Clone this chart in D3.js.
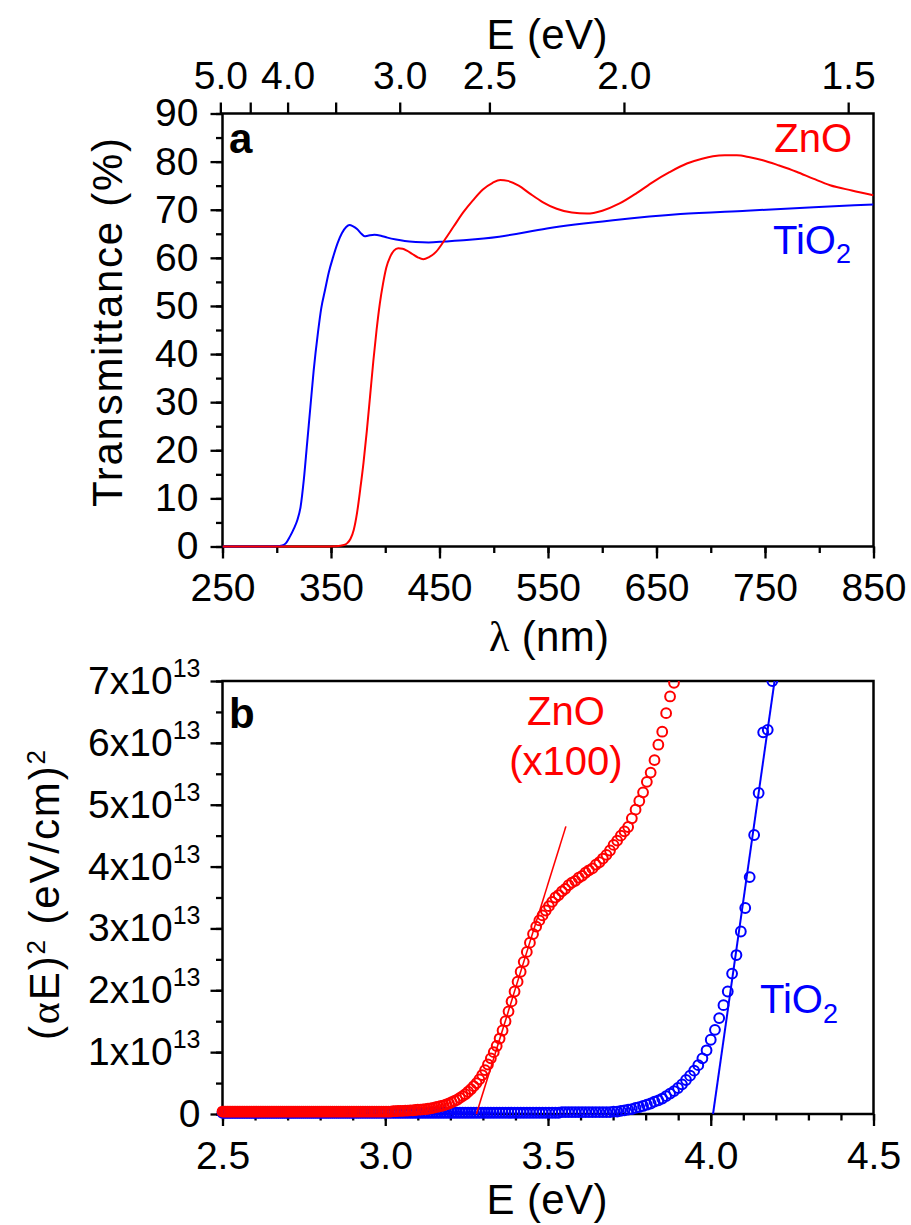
<!DOCTYPE html>
<html>
<head>
<meta charset="utf-8">
<script src="https://cdn.jsdelivr.net/npm/d3@7"></script>
<style>
  body { margin: 0; background: #fff; }
  svg { display: block; font-family: "Liberation Sans", Arial, sans-serif; }
</style>
</head>
<body>
<div id="chart"></div>
<script>
// ---------- panel a : transmittance ----------
const tio2TransNm = [250, 280, 300, 305, 308, 312, 316, 319, 322, 325,
  328, 331, 334, 338, 341, 344.5, 348, 352, 356, 360,
  364, 367, 370, 374, 378, 381, 384, 390, 396, 402,
  410, 418, 428, 440, 455, 475, 505, 549, 610, 672,
  733, 795, 850];
const tio2TransPct = [0, 0, 0.05, 0.2, 0.6, 2.0, 3.8, 5.5, 8.3, 14,
  21.5, 29, 36.5, 44.5, 49.5, 53.3, 57, 60.2, 63, 65.1,
  66.4, 66.8, 66.6, 66.0, 65.0, 64.5, 64.6, 64.8, 64.6, 64.2,
  63.8, 63.5, 63.3, 63.2, 63.4, 63.7, 64.4, 66.1, 67.8, 69.1,
  69.8, 70.5, 71.1];

const znoTransNm = [250, 340, 355, 362, 365, 368, 371, 374, 377, 380,
  383, 386, 389, 392, 395, 398, 401, 404.5, 408, 412,
  416, 420, 425, 430, 435, 440, 447, 455, 463, 472,
  481, 490, 499, 506, 513, 523, 533, 545, 558, 572,
  586, 600, 616, 632, 647, 662, 678, 692, 702, 713,
  724, 736, 748, 763, 779, 795, 810, 830, 850];
const znoTransPct = [0, 0, 0.05, 0.3, 0.7, 1.6, 3.5, 7, 12, 17.5,
  24, 31.2, 38.5, 45, 50.5, 54.7, 58, 60.2, 61.5, 62,
  61.9, 61.5, 60.8, 60.1, 59.7, 60.1, 61.3, 63.8, 66.5, 69.5,
  72, 74.2, 75.6, 76.2, 76.0, 75, 73.4, 71.6, 70.2, 69.4,
  69.2, 69.8, 71.3, 73.5, 75.8, 77.8, 79.6, 80.6, 81.1, 81.3,
  81.3, 80.9, 80.3, 79.2, 77.9, 76.4, 75.1, 74.0, 73.0];

const aTickNm = [250, 350, 450, 550, 650, 750, 850];
const topTickEv = [5.0, 4.5, 4.0, 3.5, 3.0, 2.5, 2.0, 1.5];
const topTickLabels = ["5.0", "", "4.0", "", "3.0", "2.5", "2.0", "1.5"];

// ---------- panel b : (alpha E)^2 in units of 1e13 (eV/cm)^2 ----------
// measured on a 1 nm wavelength grid, E = 1240 / lambda
const absWavelengthNm = [
  496, 495, 494, 493, 492, 491, 490, 489, 488, 487, 486, 485, 484, 483, 482, 481, 480, 479, 478, 477,
  476, 475, 474, 473, 472, 471, 470, 469, 468, 467, 466, 465, 464, 463, 462, 461, 460, 459, 458, 457,
  456, 455, 454, 453, 452, 451, 450, 449, 448, 447, 446, 445, 444, 443, 442, 441, 440, 439, 438, 437,
  436, 435, 434, 433, 432, 431, 430, 429, 428, 427, 426, 425, 424, 423, 422, 421, 420, 419, 418, 417,
  416, 415, 414, 413, 412, 411, 410, 409, 408, 407, 406, 405, 404, 403, 402, 401, 400, 399, 398, 397,
  396, 395, 394, 393, 392, 391, 390, 389, 388, 387, 386, 385, 384, 383, 382, 381, 380, 379, 378, 377,
  376, 375, 374, 373, 372, 371, 370, 369, 368, 367, 366, 365, 364, 363, 362, 361, 360, 359, 358, 357,
  356, 355, 354, 353, 352, 351, 350, 349, 348, 347, 346, 345, 344, 343, 342, 341, 340, 339, 338, 337,
  336, 335, 334, 333, 332, 331, 330, 329, 328, 327, 326, 325, 324, 323, 322, 321, 320, 319, 318, 317,
  316, 315, 314, 313, 312, 311, 310, 309, 308, 307, 306, 305, 304, 303, 302, 301, 300, 299, 298, 297,
  296];

// ZnO (x100)
const znoAbs = [
  0.04, 0.04, 0.04, 0.04, 0.04, 0.04, 0.04, 0.04, 0.04, 0.04, 0.04, 0.04, 0.04, 0.04, 0.04, 0.04, 0.04, 0.04, 0.04, 0.04,
  0.04, 0.04, 0.04, 0.04, 0.04, 0.04, 0.04, 0.04, 0.04, 0.04, 0.04, 0.04, 0.04, 0.04, 0.04, 0.04, 0.04, 0.04, 0.04, 0.04,
  0.04, 0.04, 0.04, 0.04, 0.04, 0.04, 0.04, 0.04, 0.04, 0.04, 0.04, 0.04, 0.04, 0.04, 0.04, 0.04, 0.04, 0.04, 0.04, 0.04,
  0.04, 0.04, 0.04, 0.04, 0.04, 0.04, 0.04, 0.04, 0.04, 0.04, 0.04, 0.04, 0.04, 0.04, 0.04, 0.04, 0.04, 0.04, 0.04, 0.04,
  0.04, 0.04, 0.04, 0.04, 0.04, 0.04, 0.045, 0.045, 0.05, 0.05, 0.05, 0.055, 0.055, 0.06, 0.06, 0.065, 0.07, 0.07, 0.075, 0.08,
  0.085, 0.09, 0.1, 0.11, 0.12, 0.13, 0.14, 0.155, 0.17, 0.19, 0.21, 0.23, 0.26, 0.29, 0.32, 0.36, 0.4, 0.45, 0.5, 0.56,
  0.63, 0.71, 0.8, 0.9, 1.0, 1.1, 1.22, 1.35, 1.5, 1.66, 1.82, 1.98, 2.14, 2.3, 2.46, 2.62, 2.77, 2.91, 3.03, 3.13,
  3.21, 3.29, 3.36, 3.43, 3.5, 3.54, 3.6, 3.64, 3.7, 3.74, 3.77, 3.82, 3.85, 3.9, 3.94, 3.97, 4.03, 4.07, 4.13, 4.19,
  4.26, 4.35, 4.42, 4.5, 4.57, 4.64, 4.78, 4.92, 5.06, 5.2, 5.37, 5.52, 5.72, 5.97, 6.18, 6.48, 6.75, 6.97];

// TiO2
const tio2Abs = [
  0.02, 0.02, 0.02, 0.02, 0.02, 0.02, 0.02, 0.02, 0.02, 0.02, 0.02, 0.02, 0.02, 0.02, 0.02, 0.02, 0.02, 0.02, 0.02, 0.02,
  0.02, 0.02, 0.02, 0.02, 0.02, 0.02, 0.02, 0.02, 0.02, 0.02, 0.02, 0.02, 0.02, 0.02, 0.02, 0.02, 0.02, 0.02, 0.02, 0.02,
  0.02, 0.02, 0.02, 0.02, 0.02, 0.02, 0.02, 0.02, 0.02, 0.02, 0.02, 0.02, 0.02, 0.02, 0.02, 0.02, 0.02, 0.02, 0.02, 0.02,
  0.02, 0.02, 0.02, 0.02, 0.02, 0.02, 0.02, 0.02, 0.02, 0.02, 0.02, 0.02, 0.02, 0.02, 0.02, 0.02, 0.02, 0.02, 0.02, 0.02,
  0.02, 0.02, 0.02, 0.02, 0.02, 0.02, 0.02, 0.02, 0.02, 0.02, 0.02, 0.02, 0.02, 0.02, 0.02, 0.02, 0.02, 0.02, 0.02, 0.02,
  0.02, 0.02, 0.02, 0.02, 0.02, 0.02, 0.02, 0.02, 0.02, 0.02, 0.02, 0.02, 0.02, 0.02, 0.02, 0.02, 0.02, 0.02, 0.02, 0.02,
  0.02, 0.02, 0.02, 0.02, 0.02, 0.02, 0.02, 0.02, 0.02, 0.02, 0.02, 0.02, 0.02, 0.02, 0.02, 0.02, 0.02, 0.02, 0.02, 0.02,
  0.02, 0.02, 0.02, 0.02, 0.02, 0.02, 0.03, 0.03, 0.03, 0.03, 0.03, 0.03, 0.03, 0.03, 0.03, 0.03, 0.03, 0.03, 0.03, 0.03,
  0.03, 0.04, 0.04, 0.05, 0.06, 0.07, 0.08, 0.1, 0.11, 0.13, 0.15, 0.17, 0.2, 0.22, 0.25, 0.29, 0.33, 0.37, 0.42, 0.48,
  0.55, 0.62, 0.7, 0.79, 0.9, 1.03, 1.2, 1.36, 1.55, 1.76, 1.98, 2.27, 2.57, 2.95, 3.33, 3.83, 4.51, 5.19, 6.17, 6.21,
  7.0];

// linear band-gap fits
const znoFitEv = [3.28, 3.555];
const znoFitAbs = [0, 4.65];
const tio2FitEv = [4.007, 4.196];
const tio2FitAbs = [0, 7.0];

const bTickEv = [2.5, 3.0, 3.5, 4.0, 4.5];
const bTickAbs = [0, 1, 2, 3, 4, 5, 6, 7];

// ---------- layout ----------
const W = 911, H = 1225;
const left = 222.5, right = 873.5;
const aTop = 113.5, aBottom = 546.5;
const bTop = 681, bBottom = 1114;
const red = "#ff0000", blue = "#0000ff";
const tickFont = 39, titleFont = 42;

const svg = d3.select("#chart").append("svg")
  .attr("width", W).attr("height", H);

const xA = d3.scaleLinear().domain([250, 850]).range([left, right]);
const yA = d3.scaleLinear().domain([0, 90]).range([aBottom, aTop]);
const xB = d3.scaleLinear().domain([2.5, 4.5]).range([left, right]);
const yB = d3.scaleLinear().domain([0, 7]).range([bBottom, bTop]);

// axis helper: strip domain, style ticks
function styleAxis(g) {
  g.attr("font-family", null).attr("font-size", null);
  g.select(".domain").remove();
  g.selectAll(".tick line").attr("stroke", "#000").attr("stroke-width", 2.3);
  g.selectAll(".tick text").attr("fill", "#000").attr("font-size", tickFont);
}

function minor(axis) { return axis.tickSize(6.5).tickFormat(""); }

function title(x, y, rot, len) {
  return svg.append("text")
    .attr("transform", `translate(${x},${y})` + (rot ? " rotate(-90)" : ""))
    .attr("text-anchor", "middle").attr("font-size", titleFont)
    .attr("textLength", len).attr("lengthAdjust", "spacing");
}

// clip paths
const defs = svg.append("defs");
defs.append("clipPath").attr("id", "clipA").append("rect")
  .attr("x", left).attr("y", aTop).attr("width", right - left).attr("height", aBottom - aTop + 2);
defs.append("clipPath").attr("id", "clipB").append("rect")
  .attr("x", left - 8).attr("y", bTop).attr("width", right - left + 8).attr("height", bBottom - bTop + 10);

// ================= panel a =================
svg.append("g").attr("transform", `translate(0,${aBottom})`)
  .call(minor(d3.axisBottom(xA).tickValues(xA.ticks(12)))).call(styleAxis);
svg.append("g").attr("transform", `translate(0,${aBottom})`)
  .call(d3.axisBottom(xA).tickValues(aTickNm).tickSize(12).tickPadding(15).tickFormat(d3.format("d")))
  .call(styleAxis);

svg.append("g").attr("transform", `translate(${left},0)`)
  .call(minor(d3.axisLeft(yA).tickValues(yA.ticks(18)))).call(styleAxis);
svg.append("g").attr("transform", `translate(${left},0)`)
  .call(d3.axisLeft(yA).tickValues(yA.ticks(9)).tickSize(12).tickPadding(12).tickFormat(d3.format("d")))
  .call(styleAxis);

svg.append("g").attr("transform", `translate(0,${aTop})`)
  .call(d3.axisTop(xA).tickValues(topTickEv.map(e => 1240 / e))
    .tickSize(11).tickPadding(14).tickFormat((d, i) => topTickLabels[i]))
  .call(styleAxis);

svg.append("rect")
  .attr("x", left).attr("y", aTop).attr("width", right - left).attr("height", aBottom - aTop)
  .attr("fill", "none").attr("stroke", "#000").attr("stroke-width", 2.5);

const lineA = d3.line().x(d => xA(d[0])).y(d => yA(d[1])).curve(d3.curveMonotoneX);
const plotA = svg.append("g").attr("clip-path", "url(#clipA)");
plotA.append("path")
  .datum(d3.zip(tio2TransNm, tio2TransPct))
  .attr("d", lineA).attr("fill", "none").attr("stroke", blue).attr("stroke-width", 2);
plotA.append("path")
  .datum(d3.zip(znoTransNm, znoTransPct))
  .attr("d", lineA).attr("fill", "none").attr("stroke", red).attr("stroke-width", 2);

// titles panel a
title(121.5, 322.5, true, 369).text("Transmittance (%)");
const lamTitle = title(549, 651, false, 120);
lamTitle.append("tspan").attr("font-family", "Liberation Serif, serif").text("λ");
lamTitle.append("tspan").text(" (nm)");
title(547, 49, false, 121).text("E (eV)");

svg.append("text").attr("x", 229).attr("y", 153)
  .attr("font-size", 42).attr("font-weight", "bold").text("a");

svg.append("text").attr("x", 852).attr("y", 152).attr("text-anchor", "end")
  .attr("font-size", 40).attr("fill", red).text("ZnO");
const tiA = svg.append("text").attr("x", 773).attr("y", 254)
  .attr("font-size", 40).attr("fill", blue);
tiA.append("tspan").text("TiO");
tiA.append("tspan").attr("font-size", 27).attr("dy", 9).text("2");

// ================= panel b =================
svg.append("g").attr("transform", `translate(0,${bBottom})`)
  .call(minor(d3.axisBottom(xB).tickValues(xB.ticks(20)))).call(styleAxis);
svg.append("g").attr("transform", `translate(0,${bBottom})`)
  .call(d3.axisBottom(xB).tickValues(bTickEv).tickSize(12).tickPadding(15).tickFormat(d3.format(".1f")))
  .call(styleAxis);

svg.append("g").attr("transform", `translate(${left},0)`)
  .call(minor(d3.axisLeft(yB).tickValues(yB.ticks(14)))).call(styleAxis);
const yAxisB = svg.append("g").attr("transform", `translate(${left},0)`)
  .call(d3.axisLeft(yB).tickValues(bTickAbs).tickSize(12).tickPadding(10)
    .tickFormat(d => d === 0 ? "0" : d + "x10"))
  .call(styleAxis);
yAxisB.selectAll(".tick text").filter(d => d !== 0)
  .append("tspan").attr("dy", -17).attr("font-size", 25).text("13");

svg.append("rect")
  .attr("x", left).attr("y", bTop).attr("width", right - left).attr("height", bBottom - bTop)
  .attr("fill", "none").attr("stroke", "#000").attr("stroke-width", 2.5);

const energyEv = absWavelengthNm.map(l => 1240 / l);
const plotB = svg.append("g").attr("clip-path", "url(#clipB)");

function drawCircles(values, color) {
  plotB.append("g").selectAll("circle")
    .data(values.map((v, i) => [energyEv[i], v]))
    .join("circle")
      .attr("cx", d => xB(d[0]))
      .attr("cy", d => yB(d[1]))
      .attr("r", 4.9)
      .attr("fill", "none")
      .attr("stroke", color)
      .attr("stroke-width", 2);
}
const lineB = d3.line().x(d => xB(d[0])).y(d => yB(d[1]));

drawCircles(tio2Abs, blue);
plotB.append("path").datum(d3.zip(tio2FitEv, tio2FitAbs))
  .attr("d", lineB).attr("stroke", blue).attr("stroke-width", 2).attr("fill", "none");
drawCircles(znoAbs, red);
plotB.append("path").datum(d3.zip(znoFitEv, znoFitAbs))
  .attr("d", lineB).attr("stroke", red).attr("stroke-width", 1.6).attr("fill", "none");

// titles panel b
const yTitleB = title(59, 895, true, 290);
yTitleB.append("tspan").text("(");
yTitleB.append("tspan").attr("font-family", "Liberation Serif, serif").text("α");
yTitleB.append("tspan").text("E)");
yTitleB.append("tspan").attr("font-size", 26).attr("dy", -14).text("2");
yTitleB.append("tspan").attr("dy", 14).text(" (eV/cm)");
yTitleB.append("tspan").attr("font-size", 26).attr("dy", -14).text("2");

title(547, 1214, false, 121).text("E (eV)");

svg.append("text").attr("x", 229).attr("y", 728)
  .attr("font-size", 42).attr("font-weight", "bold").text("b");

svg.append("text").attr("x", 566).attr("y", 725).attr("text-anchor", "middle")
  .attr("font-size", 40).attr("fill", red).text("ZnO");
svg.append("text").attr("x", 566).attr("y", 775).attr("text-anchor", "middle")
  .attr("font-size", 40).attr("fill", red).text("(x100)");
const tiB = svg.append("text").attr("x", 760).attr("y", 1013)
  .attr("font-size", 40).attr("fill", blue);
tiB.append("tspan").text("TiO");
tiB.append("tspan").attr("font-size", 27).attr("dy", 10).text("2");
</script>
</body>
</html>
